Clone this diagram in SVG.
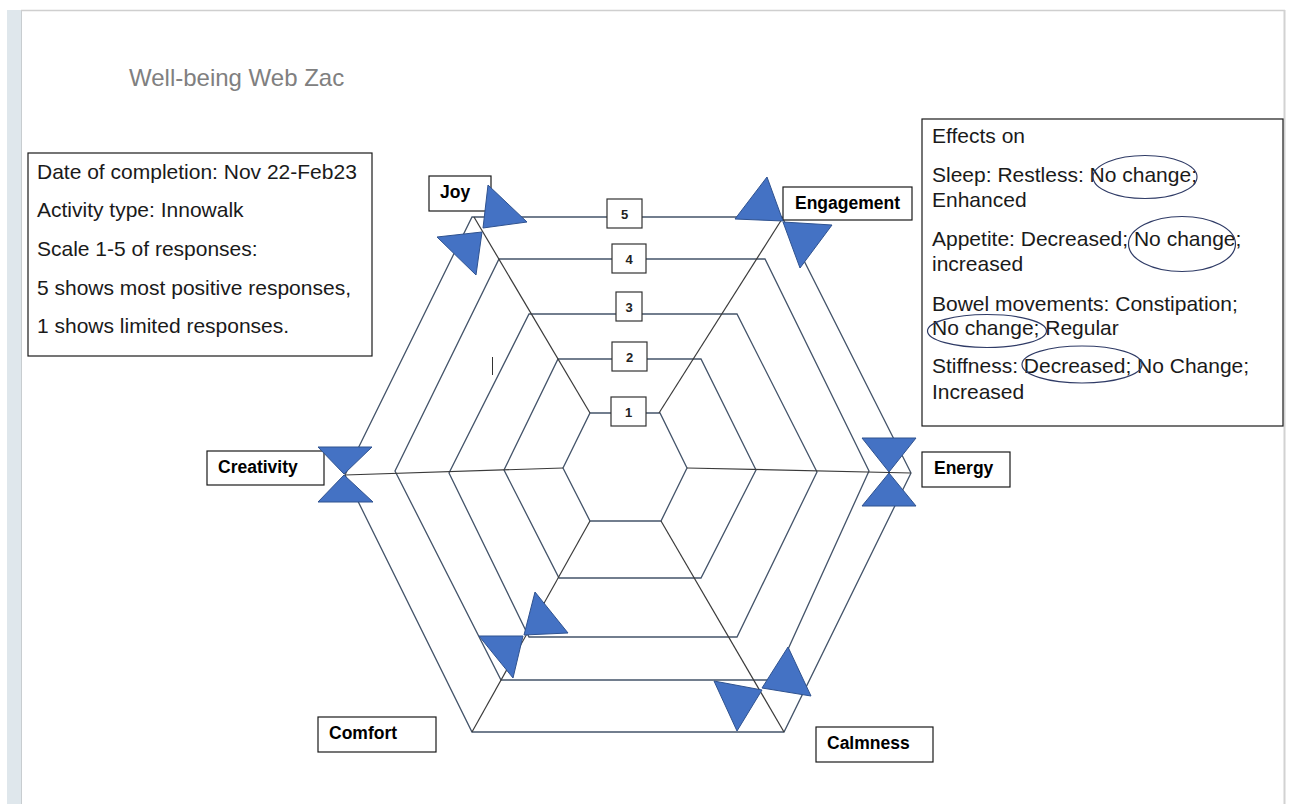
<svg xmlns="http://www.w3.org/2000/svg" width="1290" height="804" viewBox="0 0 1290 804">
<style>
.page{fill:#ffffff}
.ring{fill:none;stroke:#44546a;stroke-width:1.3;stroke-linejoin:miter}
.spoke{fill:none;stroke:#3a3a3a;stroke-width:1.2}
.bow{fill:#4472c4;stroke:#2f528f;stroke-width:1}
.lbox{fill:#ffffff;stroke:#1a1a1a;stroke-width:1.2}
.lbl{font-family:"Liberation Sans",Arial,sans-serif;font-weight:bold;font-size:17.5px;fill:#000}
.nbox{fill:#ffffff;stroke:#333;stroke-width:1.2}
.num{font-family:"Liberation Sans",Arial,sans-serif;font-weight:bold;font-size:13px;fill:#222;text-anchor:middle}
.txt{font-family:"Liberation Sans",Arial,sans-serif;font-size:21px;fill:#1a1a1a}
.ell{fill:none;stroke:#2f3b66;stroke-width:1.2}
</style>
<rect x="0" y="0" width="1290" height="804" fill="#ffffff"/>
<rect x="7" y="10" width="14" height="794" fill="#dfe7ec"/>
<line x1="21.5" y1="10" x2="21.5" y2="804" stroke="#c8cdd0" stroke-width="1"/>
<line x1="21" y1="10.5" x2="1285" y2="10.5" stroke="#cfcfcf" stroke-width="1.5"/>
<line x1="1284.5" y1="10" x2="1284.5" y2="804" stroke="#d2d2d2" stroke-width="2"/>

<text id="title" x="129" y="86" font-family="'Liberation Sans',Arial,sans-serif" font-size="24" fill="#808080">Well-being Web Zac</text>

<g id="rings">
<polygon class="ring" points="472,217 782,217 911,473 784,732 472,732 345,475"/>
<polygon class="ring" points="499,259 765,259 869,471 774,680 501,680 395,471"/>
<polygon class="ring" points="529,314 737,314 817,472 737,637 529,637 449,473"/>
<polygon class="ring" points="558,359 701,359 756,470 701,578 559,578 504,470"/>
<polygon class="ring" points="590,413 660,413 687,468 661,521 590,521 563,468"/>
</g>

<g id="connectors">
<line class="spoke" x1="474" y1="217" x2="590" y2="413"/>
<line class="spoke" x1="782" y1="219" x2="659" y2="413"/>
<line class="spoke" x1="345" y1="475" x2="563" y2="468"/>
<line class="spoke" x1="687" y1="468" x2="911" y2="473"/>
<line class="spoke" x1="590" y1="521" x2="472" y2="732"/>
<line class="spoke" x1="661" y1="521" x2="784" y2="732"/>
</g>

<g id="scale">
<g id="scale-5"><rect class="nbox" x="607" y="199" width="35" height="29"/><text class="num" x="624.5" y="219">5</text></g>
<g id="scale-4"><rect class="nbox" x="612" y="244" width="34" height="29"/><text class="num" x="629" y="264">4</text></g>
<g id="scale-3"><rect class="nbox" x="616" y="292" width="26" height="29"/><text class="num" x="629" y="312">3</text></g>
<g id="scale-2"><rect class="nbox" x="612" y="342" width="35" height="29"/><text class="num" x="629.5" y="362">2</text></g>
<g id="scale-1"><rect class="nbox" x="611" y="397" width="35" height="29"/><text class="num" x="628.5" y="417">1</text></g>
</g>

<line x1="492.5" y1="357" x2="492.5" y2="375" stroke="#333" stroke-width="1"/>

<g id="joy">
<rect class="lbox" x="429" y="176" width="62" height="35"/>
<text class="lbl" x="440" y="198">Joy</text>
<polygon class="bow" points="488,185 527,222 483,228"/>
<polygon class="bow" points="437,237 482,232 476,275"/>
</g>

<g id="engagement">
<rect class="lbox" x="783" y="187" width="129" height="33"/>
<text class="lbl" x="795" y="209">Engagement</text>
<polygon class="bow" points="767,177 735,219 783,221"/>
<polygon class="bow" points="783,222 832,225 800,268"/>
</g>

<g id="creativity">
<rect class="lbox" x="207" y="451" width="117" height="34"/>
<text class="lbl" x="218" y="473">Creativity</text>
<polygon class="bow" points="318,447 372,447 344,474"/>
<polygon class="bow" points="344,475 318,502 373,502"/>
</g>

<g id="energy">
<rect class="lbox" x="922" y="452" width="88" height="35"/>
<text class="lbl" x="934" y="474">Energy</text>
<polygon class="bow" points="862,438 916,438 889,472"/>
<polygon class="bow" points="889,473 862,506 916,506"/>
</g>

<g id="comfort">
<rect class="lbox" x="318" y="717" width="118" height="35"/>
<text class="lbl" x="329" y="739">Comfort</text>
<polygon class="bow" points="535,592 568,633 524,635"/>
<polygon class="bow" points="479,636 523,636 513,678"/>
</g>

<g id="calmness">
<rect class="lbox" x="816" y="727" width="117" height="35"/>
<text class="lbl" x="827" y="749">Calmness</text>
<polygon class="bow" points="788,647 811,696 762,688"/>
<polygon class="bow" points="714,681 762,690 737,731"/>
</g>

<g id="info">
<rect class="lbox" x="28" y="153" width="344" height="203"/>
<text class="txt" x="37" y="179">Date of completion: Nov 22-Feb23</text>
<text class="txt" x="37" y="217">Activity type: Innowalk</text>
<text class="txt" x="37" y="256">Scale 1-5 of responses:</text>
<text class="txt" x="37" y="295">5 shows most positive responses,</text>
<text class="txt" x="37" y="333">1 shows limited responses.</text>
</g>

<g id="effects">
<rect class="lbox" x="922" y="119" width="361" height="307"/>
<text class="txt" x="932" y="143">Effects on</text>
<text class="txt" x="932" y="182">Sleep: Restless: No change;</text>
<text class="txt" x="932" y="207">Enhanced</text>
<text class="txt" x="932" y="246">Appetite: Decreased; No change;</text>
<text class="txt" x="932" y="271">increased</text>
<text class="txt" x="932" y="311">Bowel movements: Constipation;</text>
<text class="txt" x="932" y="335">No change; Regular</text>
<text class="txt" x="932" y="373">Stiffness: Decreased; No Change;</text>
<text class="txt" x="932" y="399">Increased</text>
<ellipse class="ell" cx="1145" cy="177" rx="52" ry="21.5"/>
<ellipse class="ell" cx="1182" cy="244" rx="53.5" ry="27.5"/>
<ellipse class="ell" cx="987" cy="331" rx="59.5" ry="16.5"/>
<ellipse class="ell" cx="1082" cy="364.5" rx="60" ry="18.5"/>
</g>
</svg>
